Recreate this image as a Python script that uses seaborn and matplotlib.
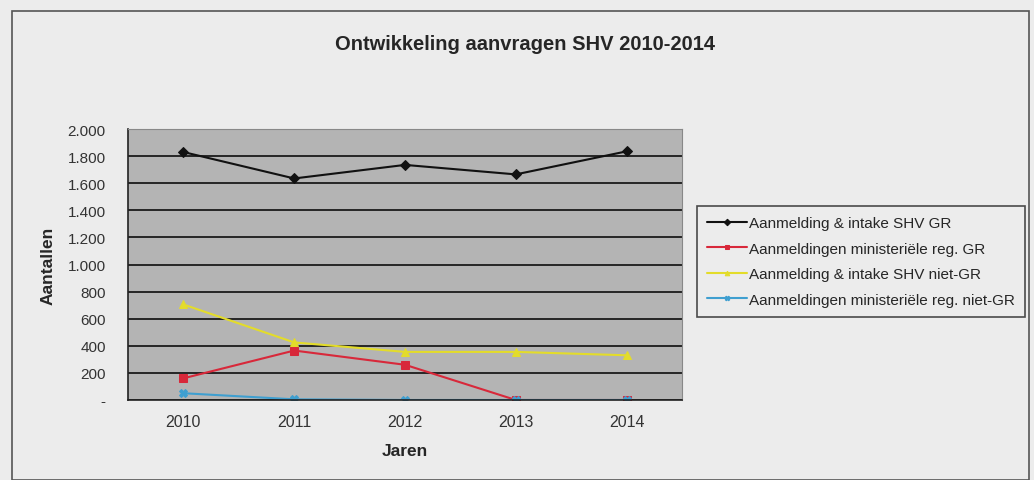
import pandas as pd
import matplotlib.pyplot as plt
import seaborn as sns
from matplotlib.patches import Rectangle
from matplotlib.ticker import FuncFormatter

# Data
jaren = [2010, 2011, 2012, 2013, 2014]
shv_gr = [1830, 1635, 1735, 1665, 1835]
min_gr = [160, 365, 260, 0, 0]
shv_niet_gr = [705, 425, 355, 355, 330]
min_niet_gr = [50, 5, 0, 0, 0]

series = {
    "Aanmelding & intake SHV GR": shv_gr,
    "Aanmeldingen ministeriële reg. GR": min_gr,
    "Aanmelding & intake SHV niet-GR": shv_niet_gr,
    "Aanmeldingen ministeriële reg. niet-GR": min_niet_gr,
}
colors = ["#111111", "#d8283a", "#e3dc2a", "#3f9fd0"]
markers = ["D", "s", "^", "X"]

rows = []
for name, vals in series.items():
    for j, v in zip(jaren, vals):
        rows.append({"Jaren": j, "Aantallen": v, "reeks": name})
df = pd.DataFrame(rows)

sns.set_style("white")
plt.rcParams["font.family"] = ["Liberation Sans", "DejaVu Sans"]

fig = plt.figure(figsize=(10.34, 4.81), dpi=100)
fig.patch.set_facecolor("#ececec")
fig.patches.append(Rectangle((12 / 1034, 0.0), 1017 / 1034, 1 - 12 / 481,
                             transform=fig.transFigure, fill=False,
                             edgecolor="#555555", linewidth=1.2))

ax = fig.add_axes([128 / 1034, 1 - 401 / 481, 554 / 1034, 271 / 481])
ax.set_facecolor("#b4b4b4")

sns.lineplot(data=df, x="Jaren", y="Aantallen", hue="reeks", style="reeks",
             palette=colors, markers=markers, dashes=False, markersize=5.5,
             linewidth=1.5, ax=ax, legend=True)

# marker edges in the line colour, as in the original
for ln in ax.lines:
    ln.set_markeredgecolor(ln.get_color())

ax.set_xlim(2009.5, 2014.5)
ax.set_ylim(0, 2000)
ax.set_yticks(range(0, 2001, 200))
ax.yaxis.set_major_formatter(FuncFormatter(
    lambda v, p: "-" if v == 0 else f"{int(v):,}".replace(",", ".")))
ax.set_xticks(jaren)
ax.set_xticks([2009.5 + i for i in range(6)], minor=True)
ax.tick_params(axis="x", which="major", length=0, pad=10, labelsize=11.5,
               labelcolor="#333333")
ax.tick_params(axis="x", which="minor", length=4, direction="in", width=1)
ax.tick_params(axis="y", length=4, direction="inout", labelsize=11, width=1,
               pad=14, labelcolor="#333333")
ax.grid(axis="y", color="#262626", linewidth=1.4)
ax.set_axisbelow(True)
for s in ["left", "bottom"]:
    ax.spines[s].set_color("#222222")
    ax.spines[s].set_linewidth(1.2)
for s in ["top", "right"]:
    ax.spines[s].set_color("#888888")
    ax.spines[s].set_linewidth(0.8)

ax.set_xlabel("Jaren", fontsize=12.5, fontweight="bold", labelpad=10)
ax.set_ylabel("Aantallen", fontsize=12.5, fontweight="bold", labelpad=9)
fig.text(525 / 1034, 1 - 45 / 481, "Ontwikkeling aanvragen SHV 2010-2014",
         ha="center", va="center", fontsize=14.5, fontweight="bold")

handles, labels = ax.get_legend_handles_labels()
for h in handles:
    h.set_markeredgecolor(h.get_color())
ax.legend(handles, labels, loc="upper left", bbox_to_anchor=(1.027, 0.716),
          borderaxespad=0, frameon=True, fancybox=False, edgecolor="#222222",
          facecolor="#ececec", fontsize=11, handlelength=2.6,
          handletextpad=0.15, labelspacing=0.76, borderpad=0.65,
          markerscale=0.6)
ax.get_legend().get_frame().set_linewidth(1.2)

fig.savefig("out.png", dpi=100, facecolor=fig.get_facecolor())
